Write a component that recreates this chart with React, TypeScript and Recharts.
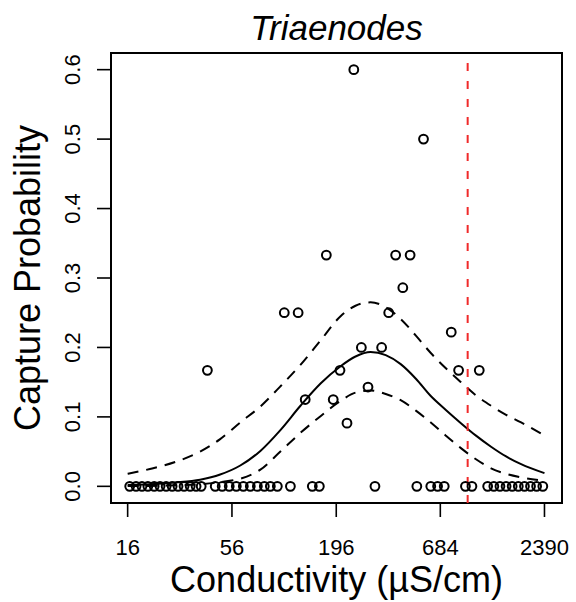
import React from 'react';
import {
  ComposedChart,
  Scatter,
  Line,
  XAxis,
  YAxis,
  ReferenceLine,
  ReferenceArea,
} from 'recharts';

// observed capture probabilities vs conductivity (uS/cm)
const obsConductivity = [
  16.4, 17.7, 19.0, 20.4, 22.0, 23.6, 25.4, 27.3, 29.3, 31.5, 33.9, 36.4, 38.7,
  45.8, 49.8, 54.2, 59.0, 64.2, 69.8, 76.0, 82.6, 88.8, 96.6,
  113, 147, 160, 312, 516, 610, 662, 717, 925, 1000,
  1208, 1301, 1400, 1507, 1621, 1745, 1879, 2021, 2175, 2343,
  242, 559, 174, 400, 476, 436, 105, 124, 368, 780, 265, 338,
  41.7, 205, 852, 1092, 287, 135, 189, 223,
];
const obsProbability = [
  0, 0, 0, 0, 0, 0, 0, 0, 0, 0, 0, 0, 0,
  0, 0, 0, 0, 0, 0, 0, 0, 0, 0,
  0, 0, 0, 0, 0, 0, 0, 0, 0, 0,
  0, 0, 0, 0, 0, 0, 0, 0, 0, 0,
  0.6, 0.5, 0.333, 0.333, 0.333, 0.286, 0.25, 0.25, 0.25, 0.222, 0.2, 0.2,
  0.167, 0.167, 0.167, 0.167, 0.143, 0.125, 0.125, 0.091,
];

// fitted curve with confidence band
const curveConductivity = [
  16, 20.9, 28.3, 38.2, 48.6, 61.9, 78.8, 100.2, 127.5, 162.3, 206.4, 247,
  296, 355, 425, 510, 610, 731, 876, 1050, 1258, 1507, 1805, 2390,
];
const fitValues = [
  0.002, 0.003, 0.0055, 0.0095, 0.017, 0.03, 0.051, 0.081, 0.116, 0.148, 0.173, 0.187,
  0.1935, 0.189, 0.176, 0.155, 0.13, 0.11, 0.091, 0.073, 0.057, 0.043, 0.032, 0.019,
];
const upperValues = [
  0.018, 0.025, 0.035, 0.05, 0.068, 0.092, 0.115, 0.144, 0.175, 0.21, 0.245, 0.26,
  0.265, 0.258, 0.241, 0.217, 0.192, 0.17, 0.15, 0.131, 0.116, 0.103, 0.092, 0.073,
];
const lowerValues = [
  0.0003, 0.0006, 0.0015, 0.003, 0.006, 0.011, 0.024, 0.05, 0.077, 0.101, 0.123, 0.135,
  0.138, 0.133, 0.124, 0.109, 0.092, 0.073, 0.055, 0.039, 0.026, 0.018, 0.013, 0.008,
];

const xTicks = [16, 56, 196, 684, 2390];
const yTicks = [0, 0.1, 0.2, 0.3, 0.4, 0.5, 0.6];
const threshold = 950;

const X_DOMAIN = [13.1, 2950];
const Y_DOMAIN = [-0.024, 0.624];
const FONT = '"Liberation Sans", Arial, Helvetica, sans-serif';

const points = obsConductivity.map((c, i) => ({ c, p: obsProbability[i] }));
const curve = curveConductivity.map((c, i) => ({
  c,
  fit: fitValues[i],
  hi: upperValues[i],
  lo: lowerValues[i],
}));

const XTick = ({ x, y, payload }: any) => (
  <text x={x} y={y + 38} textAnchor="middle" fontSize={22} fontFamily={FONT} fill="#000">
    {payload.value}
  </text>
);

const YTick = ({ x, y, payload }: any) => (
  <text
    transform={`translate(${x - 17},${y}) rotate(-90)`}
    textAnchor="middle"
    fontSize={22}
    fontFamily={FONT}
    fill="#000"
  >
    {Number(payload.value).toFixed(1)}
  </text>
);

const OpenCircle = ({ cx, cy }: any) => (
  <circle cx={cx} cy={cy} r={4.4} fill="none" stroke="#000" strokeWidth={2} />
);

export default function App() {
  return (
    <div style={{ position: 'absolute', left: 0, top: 0, width: 576, height: 602, background: '#fff' }}>
      <ComposedChart
        width={576}
        height={602}
        margin={{ top: 53, right: 14, left: 0, bottom: 0 }}
      >
        <XAxis
          dataKey="c"
          type="number"
          scale="log"
          domain={X_DOMAIN}
          ticks={xTicks}
          allowDataOverflow
          axisLine={false}
          tickLine={{ stroke: '#000', strokeWidth: 1.6 }}
          tickSize={14}
          tickMargin={0}
          height={99}
          tick={<XTick />}
          interval={0}
        />
        <YAxis
          type="number"
          domain={Y_DOMAIN}
          ticks={yTicks}
          allowDataOverflow
          axisLine={false}
          tickLine={{ stroke: '#000', strokeWidth: 1.6 }}
          tickSize={14}
          tickMargin={0}
          width={111}
          tick={<YTick />}
          interval={0}
        />
        <ReferenceArea
          x1={X_DOMAIN[0]}
          x2={X_DOMAIN[1]}
          y1={Y_DOMAIN[0]}
          y2={Y_DOMAIN[1]}
          fill="none"
          fillOpacity={0}
          stroke="#000"
          strokeWidth={2}
          ifOverflow="visible"
        />
        <Line data={curve} dataKey="hi" type="monotone" stroke="#000" strokeWidth={2}
          strokeDasharray="11 8" dot={false} isAnimationActive={false} />
        <Line data={curve} dataKey="lo" type="monotone" stroke="#000" strokeWidth={2}
          strokeDasharray="11 8" dot={false} isAnimationActive={false} />
        <Line data={curve} dataKey="fit" type="monotone" stroke="#000" strokeWidth={2}
          dot={false} isAnimationActive={false} />
        <Scatter data={points} dataKey="p" shape={<OpenCircle />} isAnimationActive={false} />
        <ReferenceLine x={threshold} stroke="#f02a2a" strokeWidth={2} strokeDasharray="8 10" />
      </ComposedChart>
      <svg
        width={576}
        height={602}
        style={{ position: 'absolute', left: 0, top: 0, pointerEvents: 'none' }}
      >
        <text x={336.5} y={40} textAnchor="middle" fontSize={35} fontStyle="italic" fontFamily={FONT}>
          Triaenodes
        </text>
        <text x={336.5} y={592} textAnchor="middle" fontSize={36} fontFamily={FONT}>
          Conductivity (µS/cm)
        </text>
        <text transform="translate(40,278) rotate(-90)" textAnchor="middle" fontSize={36} fontFamily={FONT}>
          Capture Probability
        </text>
      </svg>
    </div>
  );
}
